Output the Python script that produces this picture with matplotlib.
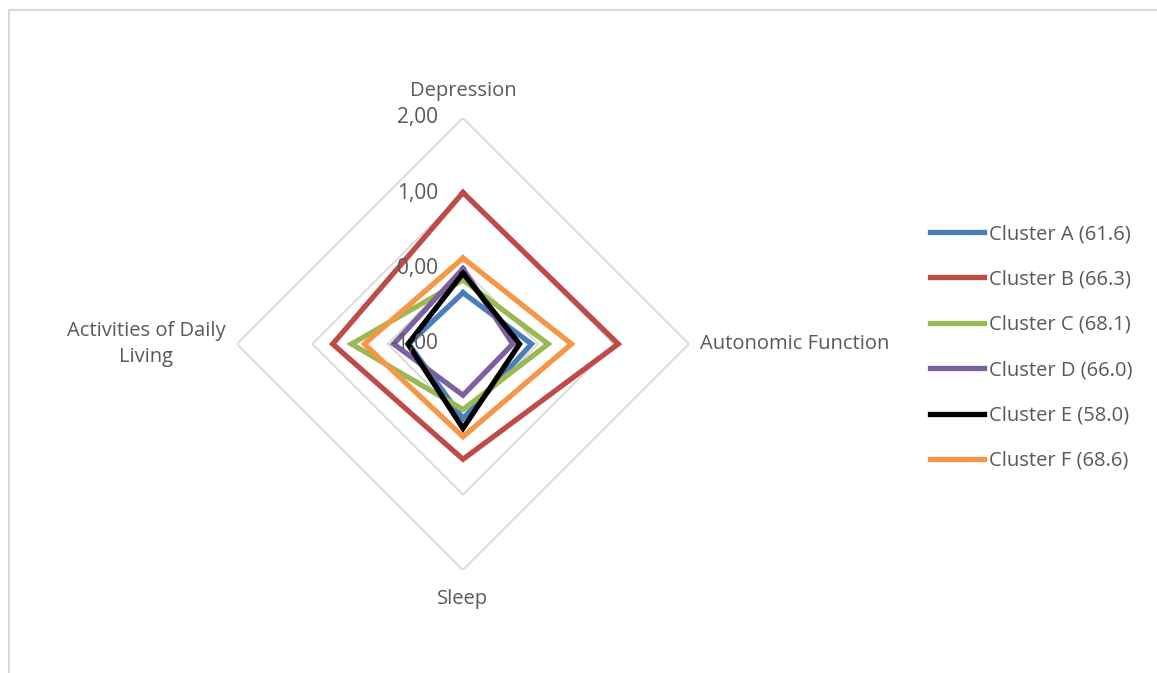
import matplotlib.pyplot as plt
import numpy as np

plt.rcParams['font.family'] = ['Open Sans', 'DejaVu Sans']

axes_names = ['Depression', 'Autonomic Function', 'Sleep', 'Activities of Daily\nLiving']
clusters = ['Cluster A (61.6)', 'Cluster B (66.3)', 'Cluster C (68.1)',
            'Cluster D (66.0)', 'Cluster E (58.0)', 'Cluster F (68.6)']
cluster_a = [-0.32, -0.09, -0.01, -0.28]
cluster_b = [1.01, 1.06, 0.53, 0.73]
cluster_c = [-0.15, 0.13, -0.13, 0.48]
cluster_d = [0.00, -0.34, -0.32, -0.08]
cluster_e = [-0.06, -0.25, 0.12, -0.27]
cluster_f = [0.14, 0.44, 0.23, 0.31]
values = [cluster_a, cluster_b, cluster_c, cluster_d, cluster_e, cluster_f]
colors = ['#4a7ebb', '#be4b48', '#98b954', '#7d60a0', '#000000', '#f79646']
levels = [-1, 0, 1, 2]
level_labels = ['-1,00', '0,00', '1,00', '2,00']

W, H = 1157, 673
fig = plt.figure(figsize=(W / 100, H / 100), dpi=100)

# chart area border
fig.patches.append(plt.Rectangle((9 / W, -0.1), 1.2, (H - 10) / H + 0.1, transform=fig.transFigure,
                                 fill=False, edgecolor='#d9d9d9', linewidth=1.5))

cx, cy, R = 463, 344, 226
ax = fig.add_axes([(cx - R) / W, (H - cy - R) / H, 2 * R / W, 2 * R / H], projection='polar')
ax.set_theta_zero_location('N')
ax.set_theta_direction(-1)
ax.set_ylim(-1, 2)
ax.grid(False)
ax.set_xticks([])
ax.set_yticks([])
ax.spines['polar'].set_visible(False)
ax.patch.set_visible(False)

theta = np.arange(len(axes_names)) * 2 * np.pi / len(axes_names)
theta_c = np.append(theta, theta[0])

for lv in levels[1:]:
    ax.plot(theta_c, [lv] * len(theta_c), color='#d9d9d9', lw=1.3, zorder=1)

for name, v, c in zip(clusters, values, colors):
    ax.plot(theta_c, v + v[:1], color=c, lw=3.8, label=name, zorder=3,
            solid_joinstyle='miter')

for lv, lab in zip(levels, level_labels):
    ax.annotate(lab, (0, lv), xytext=(-18, 0), textcoords='offset points',
                ha='right', va='center', fontsize=15, color='#595959', zorder=4)

pads = [0.36, 0.15, 0.38, 0.15]
has = ['center', 'left', 'center', 'right']
for t, name, p, ha_ in zip(theta, axes_names, pads, has):
    ax.text(t, 2 + p, name, ha=ha_, va='center', fontsize=14.5, color='#595959',
            multialignment='center', linespacing=1.4)

leg = fig.legend(loc='upper left', bbox_to_anchor=(922 / W, 1 - 216 / H), frameon=False,
                 fontsize=14.5, handlelength=2.7, handletextpad=0.25, labelspacing=1.26,
                 borderaxespad=0)
for txt in leg.get_texts():
    txt.set_color('#595959')

fig.savefig('out.png', dpi=100)
